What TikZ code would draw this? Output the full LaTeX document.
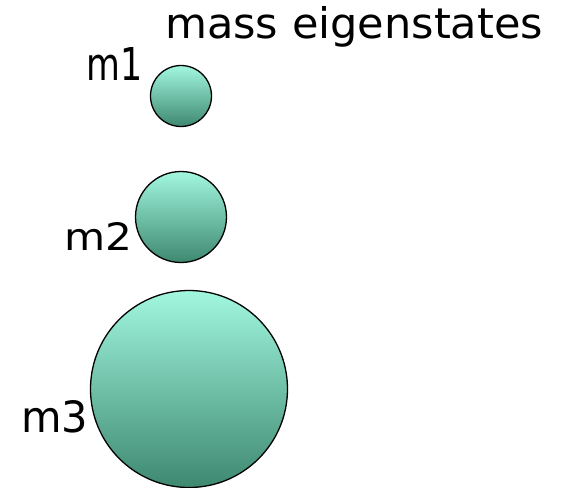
\documentclass[tikz,border=0pt]{standalone}
\usepackage{fontspec}
\setmainfont{DejaVu Sans}
\usepackage{graphicx}
\definecolor{balltop}{HTML}{A2F7DF}
\definecolor{ballbot}{HTML}{3E8870}
\begin{document}
\begin{tikzpicture}[x=1pt,y=1pt,
  ball/.style={circle, draw=black, line width=1.3pt, top color=balltop, bottom color=ballbot, inner sep=0pt},
  lbl/.style={anchor=north west, inner sep=0pt, font=\fontsize{40}{44}\selectfont}]
\useasboundingbox (0,0) rectangle (566,-488);
\node[ball, minimum size=61pt] (c1) at (181,-96) {};
\node[ball, minimum size=91pt] (c2) at (181,-217) {};
\node[ball, minimum size=197pt] (c3) at (189,-389) {};
\node[lbl] (title) at (165,-6) {\resizebox{378pt}{32pt}{mass eigenstates}};
\node[lbl] (l1) at (86,-47) {\resizebox{56pt}{33pt}{m1}};
\node[lbl] (l2) at (64,-222) {\resizebox{68pt}{28pt}{m2}};
\node[lbl] (l3) at (21,-400) {\resizebox{67pt}{32pt}{m3}};
\end{tikzpicture}
\end{document}
